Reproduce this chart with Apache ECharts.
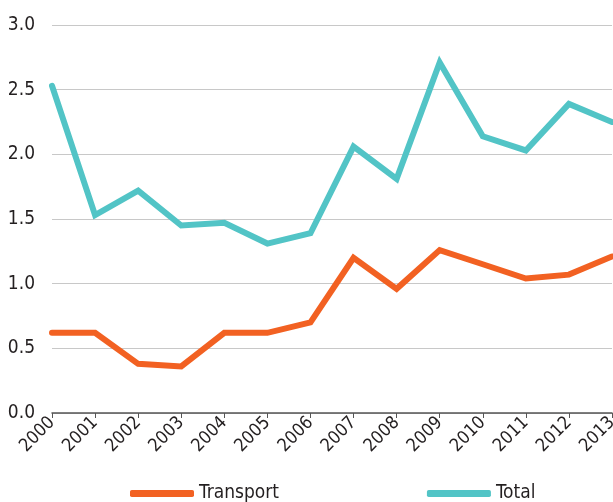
<!DOCTYPE html>
<html>
<head>
<meta charset="utf-8">
<script src="https://cdn.jsdelivr.net/npm/echarts@6/dist/echarts.min.js"></script>
<style>
  html, body { margin: 0; padding: 0; background: #fff; }
  #chart { width: 613px; height: 502px; }
</style>
</head>
<body>
<div id="chart"></div>
<script>
// data
const years = ["2000", "2001", "2002", "2003", "2004", "2005", "2006",
  "2007", "2008", "2009", "2010", "2011", "2012", "2013"];
const transport = [0.62, 0.62, 0.38, 0.36, 0.62, 0.62, 0.70, 1.20, 0.96, 1.26, 1.15, 1.04, 1.07, 1.21];
const total = [2.53, 1.53, 1.72, 1.45, 1.47, 1.31, 1.39, 2.06, 1.81, 2.71, 2.14, 2.03, 2.39, 2.25];

const font = "'Liberation Sans Narrow', 'DejaVu Sans Condensed', sans-serif";
const textColor = "#231f20";

const myChart = echarts.init(document.getElementById("chart"));
const option = {
  animation: false,
  grid: { left: 52, right: 1, top: 25, bottom: 89, outerBoundsMode: "none", containLabel: false },
  legend: {
    left: 125,
    top: 479,
    itemWidth: 64,
    itemHeight: 7,
    itemGap: 148,
    icon: "roundRect",
    textStyle: { fontFamily: font, fontSize: 19, color: textColor },
    data: ["Transport", "Total"],
  },
  xAxis: {
    type: "category",
    boundaryGap: false,
    data: years,
    axisLine: { lineStyle: { color: "#555", width: 1.5 } },
    axisTick: { show: true, length: 5, lineStyle: { color: "#555" } },
    axisLabel: {
      rotate: 45,
      margin: 7,
      fontFamily: font,
      fontSize: 18,
      color: textColor,
    },
  },
  yAxis: {
    type: "value",
    min: 0,
    max: 3,
    interval: 0.5,
    axisLine: { show: false },
    axisTick: { show: false },
    splitLine: { lineStyle: { color: "#c8c8c8", width: 1.2 } },
    axisLabel: {
      margin: 17,
      fontFamily: font,
      fontSize: 19,
      color: textColor,
      formatter: (v) => v.toFixed(1),
    },
  },
  series: [
    {
      name: "Transport",
      type: "line",
      data: transport,
      showSymbol: false,
      color: "#f26122",
      lineStyle: { width: 6, cap: "round", join: "miter" },
    },
    {
      name: "Total",
      type: "line",
      data: total,
      showSymbol: false,
      color: "#52c4c6",
      lineStyle: { width: 6, cap: "round", join: "miter" },
    },
  ],
};
myChart.setOption(option);
</script>
</body>
</html>
